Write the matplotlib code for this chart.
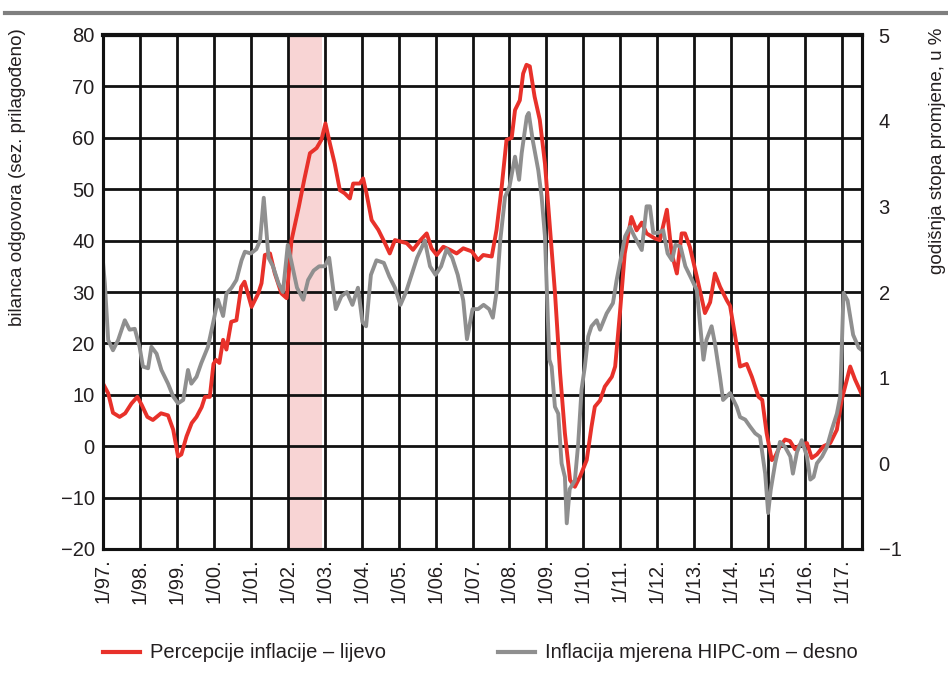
import matplotlib
matplotlib.use("Agg")
import matplotlib.pyplot as plt
from matplotlib.lines import Line2D

# ---------------- data ----------------
perc_t = [1997.0, 1997.14, 1997.27, 1997.45, 1997.6, 1997.77, 1997.93, 1998.05, 1998.2, 1998.35,
          1998.57, 1998.76, 1998.9, 1999.03, 1999.12, 1999.26, 1999.4, 1999.53, 1999.67, 1999.76,
          1999.89, 1999.99, 2000.06, 2000.15, 2000.25, 2000.34, 2000.47, 2000.61, 2000.74, 2000.83,
          2001.02, 2001.2, 2001.29, 2001.38, 2001.52, 2001.65, 2001.83, 2001.97, 2002.1, 2002.3,
          2002.45, 2002.6, 2002.78, 2002.91, 2003.02, 2003.14, 2003.27, 2003.41, 2003.54, 2003.68,
          2003.77, 2003.95, 2004.04, 2004.13, 2004.27, 2004.45, 2004.63, 2004.76, 2004.9, 2005.22,
          2005.39, 2005.58, 2005.76, 2005.89, 2006.03, 2006.21, 2006.39, 2006.57, 2006.75, 2006.98,
          2007.15, 2007.29, 2007.52, 2007.65, 2007.79, 2007.92, 2008.06, 2008.15, 2008.28, 2008.37,
          2008.46, 2008.55, 2008.68, 2008.82, 2008.96, 2009.1, 2009.23, 2009.37, 2009.5, 2009.64,
          2009.77, 2009.91, 2010.09, 2010.22, 2010.31, 2010.45, 2010.58, 2010.77, 2010.86, 2010.99,
          2011.12, 2011.3, 2011.44, 2011.58, 2011.71, 2011.94, 2012.07, 2012.26, 2012.39, 2012.53,
          2012.66, 2012.75, 2012.88, 2013.07, 2013.29, 2013.43, 2013.56, 2013.7, 2013.88, 2013.97,
          2014.11, 2014.24, 2014.42, 2014.56, 2014.74, 2014.84, 2014.96, 2015.1, 2015.19, 2015.32,
          2015.46, 2015.59, 2015.73, 2015.87, 2016.05, 2016.18, 2016.32, 2016.5, 2016.68, 2016.86,
          2016.99, 2017.13, 2017.22, 2017.35, 2017.54]
perc_v = [12.2, 10.3, 6.5, 5.7, 6.4, 8.3, 9.6, 8.0, 5.7, 5.1,
          6.4, 6.0, 3.2, -2.0, -1.6, 1.9, 4.5, 5.7, 7.6, 9.6,
          9.6, 16.0, 16.8, 16.2, 20.7, 18.8, 24.2, 24.5, 31.0, 32.0,
          27.1, 29.7, 31.7, 37.2, 37.5, 33.6, 29.7, 28.8, 40.0, 46.6,
          52.0, 57.0, 58.0, 59.6, 62.8, 58.9, 55.0, 49.8, 49.2, 48.2,
          51.1, 51.1, 52.1, 49.2, 44.0, 42.1, 39.5, 37.5, 40.1, 39.5,
          38.2, 40.0, 41.4, 38.5, 37.2, 38.8, 38.2, 37.5, 38.5, 37.9,
          36.2, 37.2, 36.9, 42.1, 50.5, 59.6, 60.0, 65.4, 67.3, 72.5,
          74.2, 73.9, 68.0, 63.5, 55.0, 42.1, 30.0, 14.2, 2.5, -6.6,
          -7.9, -5.9, -2.7, 3.8, 7.7, 8.9, 11.6, 13.5, 15.5, 26.0,
          37.5, 44.6, 42.0, 43.5, 41.4, 40.4, 40.1, 46.0, 37.5, 33.6,
          41.4, 41.4, 38.8, 33.0, 25.9, 28.0, 33.6, 31.0, 28.4, 27.3,
          21.3, 15.5, 16.0, 13.5, 9.6, 9.0, 2.5, -2.7, -2.0, 0.0,
          1.3, 1.0, -0.6, 0.3, 0.6, -2.3, -1.6, 0.0, 0.6, 3.2,
          9.0, 12.9, 15.5, 13.0, 10.0]

hicp_t = [1997.0, 1997.05, 1997.14, 1997.27, 1997.41, 1997.59, 1997.72, 1997.86, 1997.99, 1998.08,
          1998.22, 1998.31, 1998.45, 1998.58, 1998.76, 1998.9, 1999.03, 1999.17, 1999.3, 1999.39,
          1999.53, 1999.66, 1999.84, 1999.98, 2000.11, 2000.25, 2000.34, 2000.48, 2000.61, 2000.75,
          2000.84, 2001.0, 2001.15, 2001.25, 2001.35, 2001.48, 2001.6, 2001.75, 2001.87, 2002.0,
          2002.1, 2002.25, 2002.42, 2002.55, 2002.7, 2002.85, 2003.0, 2003.12, 2003.3, 2003.45,
          2003.6, 2003.75, 2003.9, 2004.02, 2004.12, 2004.25, 2004.4, 2004.6, 2004.75, 2004.9,
          2005.05, 2005.2, 2005.35, 2005.5, 2005.71, 2005.85, 2006.0, 2006.15, 2006.3, 2006.45,
          2006.6, 2006.75, 2006.85, 2007.0, 2007.15, 2007.3, 2007.45, 2007.55, 2007.65, 2007.75,
          2007.88, 2008.0, 2008.15, 2008.26, 2008.33, 2008.47, 2008.52, 2008.63, 2008.78, 2008.87,
          2008.96, 2009.02, 2009.08, 2009.14, 2009.23, 2009.32, 2009.41, 2009.5, 2009.55, 2009.63,
          2009.77, 2009.86, 2009.95, 2010.04, 2010.13, 2010.22, 2010.36, 2010.45, 2010.63, 2010.8,
          2010.9, 2011.13, 2011.26, 2011.38, 2011.58, 2011.71, 2011.8, 2011.89, 2012.02, 2012.16,
          2012.28, 2012.4, 2012.49, 2012.63, 2012.76, 2012.94, 2013.07, 2013.25, 2013.33, 2013.47,
          2013.56, 2013.7, 2013.78, 2013.97, 2014.15, 2014.24, 2014.38, 2014.51, 2014.65, 2014.78,
          2014.92, 2015.0, 2015.07, 2015.19, 2015.32, 2015.46, 2015.6, 2015.67, 2015.78, 2015.91,
          2016.05, 2016.14, 2016.23, 2016.32, 2016.46, 2016.59, 2016.72, 2016.86, 2016.95, 2017.04,
          2017.15, 2017.3, 2017.45, 2017.54]
hicp_v = [2.35, 2.1, 1.44, 1.32, 1.44, 1.67, 1.56, 1.57, 1.36, 1.13,
          1.11, 1.36, 1.28, 1.09, 0.93, 0.78, 0.70, 0.74, 1.09, 0.93,
          1.01, 1.17, 1.36, 1.64, 1.91, 1.72, 1.98, 2.05, 2.14, 2.37,
          2.47, 2.45, 2.5, 2.6, 3.1, 2.4, 2.3, 2.1, 2.0, 2.55,
          2.35, 2.05, 1.91, 2.14, 2.25, 2.3, 2.3, 2.4, 1.8, 1.95,
          2.0, 1.85, 2.05, 1.65, 1.6, 2.2, 2.37, 2.34, 2.18, 2.05,
          1.85, 2.0, 2.2, 2.4, 2.6, 2.3, 2.2, 2.3, 2.5, 2.4,
          2.2, 1.9, 1.45, 1.8, 1.8, 1.85, 1.8, 1.7, 2.0, 2.6,
          3.11, 3.23, 3.58, 3.31, 3.62, 4.05, 4.09, 3.77, 3.42, 3.11,
          2.65, 1.91, 1.21, 1.13, 0.66, 0.58, 0.0, -0.16, -0.70, -0.3,
          -0.2, 0.23, 0.86, 1.13, 1.48, 1.6, 1.67, 1.56, 1.75, 1.87,
          2.14, 2.65, 2.76, 2.65, 2.49, 3.0, 3.0, 2.69, 2.69, 2.72,
          2.45, 2.37, 2.55, 2.53, 2.30, 2.14, 2.02, 1.21, 1.44, 1.6,
          1.4, 1.0, 0.74, 0.82, 0.66, 0.54, 0.51, 0.43, 0.35, 0.31,
          -0.12, -0.58, -0.31, 0.0, 0.25, 0.19, 0.08, -0.12, 0.13, 0.27,
          0.08, -0.19, -0.16, 0.0, 0.08, 0.19, 0.39, 0.58, 0.78, 1.99,
          1.9, 1.5, 1.35, 1.32]

years = list(range(1997, 2018))
xtick_labels = [f"1/{y % 100:02d}." for y in years]
left_ticks = [-20, -10, 0, 10, 20, 30, 40, 50, 60, 70, 80]
right_ticks = [-1, 0, 1, 2, 3, 4, 5]
shade_span = (2002.0, 2002.92)

label_left = "bilanca odgovora (sez. prilagođeno)"
label_right = "godišnja stopa promjene, u %"
legend_perc = "Percepcije inflacije – lijevo"
legend_hicp = "Inflacija mjerena HIPC-om – desno"

# ---------------- style ----------------
plt.rcParams["font.family"] = ["Liberation Sans", "DejaVu Sans"]

RED = "#e8312a"
GREY = "#8f8f8f"
TXT = "#231f20"
FS = 14.5

W, H = 948, 681
fig = plt.figure(figsize=(W / 100, H / 100), dpi=100)
L, R, T, B = 103, 862, 35, 549
ax = fig.add_axes([L / W, 1 - B / H, (R - L) / W, (B - T) / H])
ax2 = ax.twinx()

ax.set_xlim(1997.0, 2017.54)
ax.set_ylim(-20, 80)
ax2.set_ylim(-1, 5)

ax.axvspan(*shade_span, color="#f8d4d4", zorder=0, lw=0)

ax.set_xticks(years)
ax.set_xticklabels(xtick_labels, rotation=90, fontsize=FS, color=TXT)
ax.set_yticks(left_ticks)
ax.set_yticklabels([str(v).replace("-", "−") for v in left_ticks], fontsize=FS, color=TXT)
ax2.set_yticks(right_ticks)
ax2.set_yticklabels([str(v).replace("-", "−") for v in right_ticks], fontsize=FS, color=TXT)

ax.tick_params(axis="both", length=0, pad=6)
ax2.tick_params(axis="y", length=0, pad=12)
ax.tick_params(axis="x", pad=7)

ax.grid(True, color="#111111", lw=2.0, zorder=1)
ax.set_axisbelow(True)
for a in (ax, ax2):
    for s in a.spines.values():
        s.set_color("#111111")
        s.set_linewidth(2.2)
ax.spines["top"].set_linewidth(3.0)

ax.plot(perc_t, perc_v, color=RED, lw=2.8, zorder=3, solid_joinstyle="round")
ax2.plot(hicp_t, hicp_v, color=GREY, lw=2.8, zorder=2, solid_joinstyle="round")

# axis titles
fig.text(18 / W, 1 - 28 / H, label_left, rotation=90, ha="center", va="top",
         fontsize=13.5, color=TXT)
fig.text(937 / W, 1 - 28 / H, label_right, rotation=90, ha="center", va="top",
         fontsize=13.5, color=TXT)

# top rule
fig.add_artist(Line2D([5 / W, 1.0], [1 - 13 / H, 1 - 13 / H], color="#7f7f7f", lw=3,
                      transform=fig.transFigure))

# legend
ly = 1 - 652 / H
fig.add_artist(Line2D([103 / W, 140 / W], [ly, ly], color=RED, lw=3, transform=fig.transFigure))
fig.text(150 / W, ly, legend_perc, ha="left", va="center", fontsize=FS, color=TXT)
fig.add_artist(Line2D([498 / W, 535 / W], [ly, ly], color=GREY, lw=3, transform=fig.transFigure))
fig.text(545 / W, ly, legend_hicp, ha="left", va="center", fontsize=FS, color=TXT)

fig.savefig("out.png", dpi=100)
